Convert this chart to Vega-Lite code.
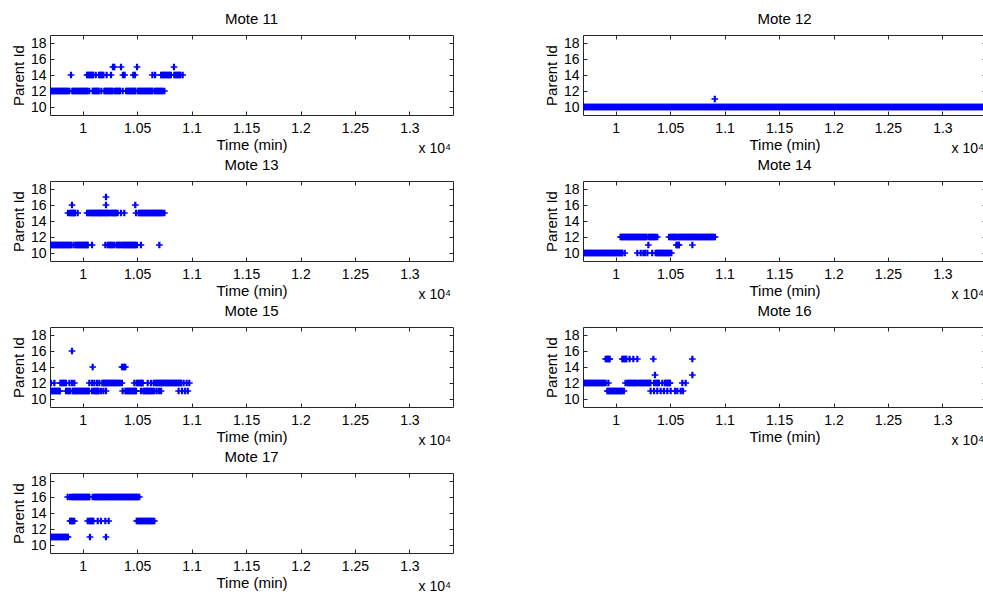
{
  "$schema": "https://vega.github.io/schema/vega-lite/v6.json",
  "background": "white",
  "padding": {"left": 10, "top": 11, "right": 0, "bottom": 0},
  "config": {
    "font": "Liberation Sans",
    "view": {"stroke": "#262626", "strokeWidth": 1},
    "axis": {"grid": false, "domain": false, "tickColor": "#262626", "labelColor": "black", "titleColor": "black"}
  },
  "data": {"values": [
    {"m": 11, "p": 12, "t": [9705,9715,9725,9735,9745,9755,9765,9775,9785,9795,9805,9815,9825,9835,9845,9855,9865,9878,9905,9915,9925,9935,9945,9955,9965,9975,9985,9995,10005,10015,10025,10035,10040,10060,10092,10102,10112,10122,10132,10142,10147,10171,10199,10209,10219,10229,10238,10248,10258,10268,10276,10297,10307,10317,10327,10337,10342,10367,10398,10408,10418,10428,10438,10448,10458,10468,10478,10482,10505,10515,10525,10535,10545,10555,10565,10575,10585,10595,10605,10615,10625,10635,10640,10661,10673,10683,10693,10703,10713,10723,10733,10750]},
    {"m": 11, "p": 14, "t": [9893,10040,10050,10060,10070,10080,10090,10095,10120,10150,10160,10170,10180,10190,10220,10260,10370,10385,10465,10480,10640,10665,10720,10730,10740,10750,10760,10770,10780,10790,10800,10810,10841,10851,10861,10871,10881,10891,10897,10918]},
    {"m": 11, "p": 15, "t": [10278,10290,10352,10499,10838]},
    {"m": 12, "p": 10, "t": [9700,9710,9720,9730,9740,9750,9760,9770,9780,9790,9800,9810,9820,9830,9840,9850,9860,9870,9880,9890,9900,9910,9920,9930,9940,9950,9960,9970,9980,9990,10000,10010,10020,10030,10040,10050,10060,10070,10080,10090,10100,10110,10120,10130,10140,10150,10160,10170,10180,10190,10200,10210,10220,10230,10240,10250,10260,10270,10280,10290,10300,10310,10320,10330,10340,10350,10360,10370,10380,10390,10400,10410,10420,10430,10440,10450,10460,10470,10480,10490,10500,10510,10520,10530,10540,10550,10560,10570,10580,10590,10600,10610,10620,10630,10640,10650,10660,10670,10680,10690,10700,10710,10720,10730,10740,10750,10760,10770,10780,10790,10800,10810,10820,10830,10840,10850,10860,10870,10880,10890,10900,10910,10920,10930,10940,10950,10960,10970,10980,10990,11000,11010,11020,11030,11040,11050,11060,11070,11080,11090,11100,11110,11120,11130,11140,11150,11160,11170,11180,11190,11200,11210,11220,11230,11240,11250,11260,11270,11280,11290,11300,11310,11320,11330,11340,11350,11360,11370,11380,11390,11400,11410,11420,11430,11440,11450,11460,11470,11480,11490,11500,11510,11520,11530,11540,11550,11560,11570,11580,11590,11600,11610,11620,11630,11640,11650,11660,11670,11680,11690,11700,11710,11720,11730,11740,11750,11760,11770,11780,11790,11800,11810,11820,11830,11840,11850,11860,11870,11880,11890,11900,11910,11920,11930,11940,11950,11960,11970,11980,11990,12000,12010,12020,12030,12040,12050,12060,12070,12080,12090,12100,12110,12120,12130,12140,12150,12160,12170,12180,12190,12200,12210,12220,12230,12240,12250,12260,12270,12280,12290,12300,12310,12320,12330,12340,12350,12360,12370,12380,12390,12400,12410,12420,12430,12440,12450,12460,12470,12480,12490,12500,12510,12520,12530,12540,12550,12560,12570,12580,12590,12600,12610,12620,12630,12640,12650,12660,12670,12680,12690,12700,12710,12720,12730,12740,12750,12760,12770,12780,12790,12800,12810,12820,12830,12840,12850,12860,12870,12880,12890,12900,12910,12920,12930,12940,12950,12960,12970,12980,12990,13000,13010,13020,13030,13040,13050,13060,13070,13080,13090,13100,13110,13120,13130,13140,13150,13160,13170,13180,13190,13200,13210,13220,13230,13240,13250,13260,13270,13280,13290,13300,13310,13320,13330,13340,13350,13360,13370,13380,13390,13400]},
    {"m": 12, "p": 11, "t": [10910]},
    {"m": 13, "p": 11, "t": [9705,9715,9725,9735,9745,9755,9765,9775,9785,9795,9805,9815,9825,9835,9845,9855,9865,9875,9885,9893,9915,9933,9943,9953,9963,9973,9983,9993,10003,10013,10023,10033,10043,10046,10086,10208,10230,10245,10255,10265,10275,10291,10312,10322,10332,10342,10358,10368,10378,10388,10398,10408,10418,10428,10438,10448,10458,10468,10478,10483,10499,10535,10704]},
    {"m": 13, "p": 15, "t": [9865,9884,9894,9904,9914,9924,9929,9954,10040,10055,10065,10075,10085,10095,10105,10115,10125,10135,10145,10155,10165,10168,10184,10194,10204,10214,10224,10234,10244,10260,10270,10280,10290,10300,10305,10321,10352,10382,10490,10514,10524,10534,10544,10554,10564,10574,10584,10594,10604,10614,10624,10634,10644,10654,10664,10674,10684,10694,10704,10714,10724,10734,10750]},
    {"m": 13, "p": 16, "t": [9902,10214,10483]},
    {"m": 13, "p": 17, "t": [10214]},
    {"m": 14, "p": 10, "t": [9705,9715,9725,9735,9745,9755,9765,9775,9785,9795,9805,9815,9825,9835,9845,9855,9865,9875,9885,9895,9905,9915,9925,9935,9945,9955,9965,9975,9985,9995,10005,10015,10025,10035,10045,10055,10060,10083,10199,10230,10254,10269,10291,10335,10367,10377,10387,10397,10407,10417,10427,10437,10447,10457,10467,10477,10487,10496,10511]},
    {"m": 14, "p": 11, "t": [10300,10557,10567,10577,10581,10704]},
    {"m": 14, "p": 12, "t": [10045,10055,10065,10075,10085,10095,10105,10115,10125,10135,10145,10155,10165,10175,10184,10195,10205,10215,10225,10235,10245,10255,10265,10275,10285,10306,10316,10326,10336,10346,10356,10366,10382,10490,10505,10515,10525,10535,10545,10550,10566,10581,10591,10601,10611,10621,10631,10641,10651,10661,10671,10681,10691,10698,10710,10720,10730,10740,10750,10760,10770,10780,10790,10800,10810,10820,10830,10840,10850,10860,10870,10880,10890,10900,10912]},
    {"m": 15, "p": 11, "t": [9703,9715,9725,9735,9745,9755,9765,9775,9785,9790,9847,9862,9872,9884,9908,9918,9928,9938,9948,9958,9968,9978,9988,9998,10008,10018,10028,10038,10048,10058,10086,10101,10111,10121,10131,10141,10146,10168,10190,10214,10367,10392,10402,10412,10422,10432,10442,10452,10462,10472,10482,10490,10535,10557,10567,10577,10587,10597,10607,10617,10627,10637,10647,10658,10679,10700,10720,10881,10912,10940,10965]},
    {"m": 15, "p": 12, "t": [9709,9740,9795,9805,9815,9825,9835,9847,9878,9902,9923,10061,10086,10107,10132,10153,10180,10190,10200,10210,10220,10230,10240,10250,10260,10270,10280,10290,10300,10310,10320,10330,10343,10360,10474,10496,10506,10516,10526,10536,10546,10551,10597,10627,10652,10667,10677,10687,10697,10707,10717,10727,10737,10747,10757,10767,10777,10787,10797,10807,10817,10827,10837,10847,10857,10867,10877,10887,10897,10903,10927,10955,10979]},
    {"m": 15, "p": 14, "t": [10092,10361,10371,10381,10392]},
    {"m": 15, "p": 16, "t": [9902]},
    {"m": 16, "p": 12, "t": [9705,9715,9725,9735,9745,9755,9765,9775,9785,9795,9805,9815,9825,9835,9845,9855,9865,9875,9885,9895,9908,9933,10090,10107,10117,10127,10137,10147,10157,10167,10177,10187,10197,10214,10224,10234,10244,10254,10264,10274,10284,10294,10304,10314,10319,10352,10367,10377,10387,10397,10428,10453,10463,10473,10483,10493,10499,10612,10643]},
    {"m": 16, "p": 11, "t": [9923,9933,9943,9953,9963,9973,9983,9993,10003,10013,10023,10033,10043,10053,10058,10076,10321,10352,10382,10413,10443,10474,10505,10545,10566,10597,10618]},
    {"m": 16, "p": 15, "t": [9908,9918,9928,9938,9945,10061,10071,10081,10091,10098,10128,10162,10199,10346,10704]},
    {"m": 16, "p": 13, "t": [10361,10704]},
    {"m": 17, "p": 11, "t": [9705,9715,9725,9735,9745,9755,9765,9775,9785,9795,9805,9815,9825,9835,9845,9855,9865,10067,10214]},
    {"m": 17, "p": 16, "t": [9862,9884,9902,9912,9922,9932,9942,9952,9962,9972,9982,9992,10002,10012,10022,10032,10042,10052,10061,10092,10107,10117,10127,10137,10147,10157,10167,10177,10187,10197,10207,10217,10227,10237,10247,10257,10267,10277,10287,10297,10307,10317,10327,10337,10347,10357,10367,10377,10387,10397,10407,10417,10427,10437,10447,10457,10467,10477,10487,10497,10505,10520]},
    {"m": 17, "p": 13, "t": [9884,9893,9903,9913,9923,10046,10061,10071,10081,10091,10098,10138,10168,10208,10239,10496,10506,10516,10526,10536,10546,10556,10566,10576,10586,10596,10606,10616,10626,10636,10646,10658]}
  ]},
  "transform": [{"flatten": ["t"]}],
  "facet": {
    "field": "m", "type": "ordinal",
    "header": {"title": null, "labelExpr": "'Mote ' + datum.value", "labelFontSize": 15, "labelPadding": 8, "labelColor": "black", "labelFont": "Liberation Sans"}
  },
  "columns": 2,
  "spacing": {"column": 89, "row": 0},
  "resolve": {"axis": {"x": "independent", "y": "independent"}},
  "spec": {
    "width": 403,
    "height": 80,
    "layer": [
      {
        "mark": {"type": "point", "shape": "M-1,-0.21L-0.33,-0.21L-0.33,-1L0.33,-1L0.33,-0.21L1,-0.21L1,0.21L0.33,0.21L0.33,1L-0.33,1L-0.33,0.21L-1,0.21Z", "filled": true, "fill": "#0000ff", "strokeWidth": 0, "size": 45, "opacity": 1, "clip": true},
        "encoding": {
          "x": {"field": "t", "type": "quantitative",
            "scale": {"domain": [9700, 13400], "nice": false, "zero": false},
            "axis": {"orient": "bottom", "values": [10000,10500,11000,11500,12000,12500,13000], "labelExpr": "datum.value / 10000", "title": "Time (min)", "titleFontSize": 15, "titleFontWeight": "normal", "titlePadding": 2, "labelFontSize": 14, "tickSize": -4, "labelPadding": 10}},
          "y": {"field": "p", "type": "quantitative",
            "scale": {"domain": [9, 19], "nice": false, "zero": false},
            "axis": {"orient": "left", "values": [10,12,14,16,18], "title": "Parent Id", "titleFontSize": 15, "titleFontWeight": "normal", "titlePadding": 4, "labelFontSize": 14, "tickSize": -4, "labelPadding": 8}}
        }
      },
      {
        "transform": [{"aggregate": [{"op": "count", "as": "n"}], "groupby": ["m"]}],
        "mark": {"type": "text", "align": "right", "baseline": "alphabetic", "dy": 38, "dx": -2, "fontSize": 14, "color": "black"},
        "encoding": {
          "x": {"datum": 13400, "type": "quantitative", "scale": {"domain": [9700, 13400], "nice": false, "zero": false},
            "axis": {"orient": "top", "values": [10000,10500,11000,11500,12000,12500,13000], "labels": false, "title": null, "tickSize": -4}},
          "y": {"datum": 9, "type": "quantitative", "scale": {"domain": [9, 19], "nice": false, "zero": false},
            "axis": {"orient": "right", "values": [10,12,14,16,18], "labels": false, "title": null, "tickSize": -4}},
          "text": {"value": "x 10⁴"}
        }
      }
    ],
    "resolve": {"axis": {"x": "independent", "y": "independent"}}
  }
}
